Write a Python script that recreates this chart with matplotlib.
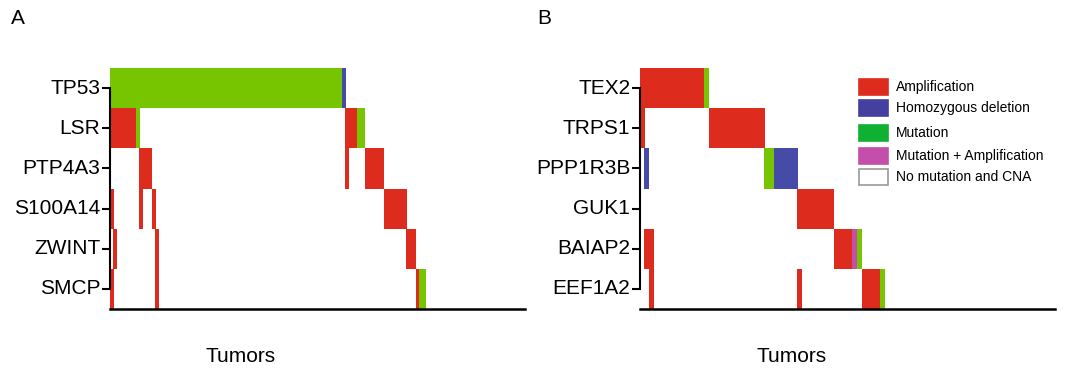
import matplotlib
matplotlib.use('Agg')
import matplotlib.pyplot as plt
import matplotlib.transforms as mtransforms
from matplotlib.patches import Rectangle

plt.rcParams['font.family'] = ['Liberation Sans', 'DejaVu Sans']

colors = {
    'amp': '#dd2c1e',
    'del': '#454ba6',
    'mut': '#77c400',
    'mutamp': '#c44fab',
}

# panel A: genes top to bottom, one event block per entry
genes_a = ['TP53', 'LSR', 'PTP4A3', 'S100A14', 'ZWINT', 'SMCP']
row_a   = [0, 0, 1, 1, 1, 1, 2, 2, 2, 3, 3, 3, 3, 4, 4, 4, 5, 5, 5, 5]
start_a = [0, 62, 0, 7, 62.7, 66, 7.7, 62.7, 68, 0, 7.7, 11.2, 73, 0.8, 12, 79, 0, 12, 81.6, 82.4]
end_a   = [62, 63, 7, 8, 66, 68, 11.2, 63.7, 73, 1, 8.7, 12.2, 79.2, 1.8, 13, 81.6, 1, 13, 82.4, 84.3]
kind_a  = ['mut', 'del', 'amp', 'mut', 'amp', 'mut', 'amp', 'amp', 'amp', 'amp', 'amp', 'amp', 'amp',
           'amp', 'amp', 'amp', 'amp', 'amp', 'amp', 'mut']
ntum_a = 110.7

# panel B
genes_b = ['TEX2', 'TRPS1', 'PPP1R3B', 'GUK1', 'BAIAP2', 'EEF1A2']
row_b   = [0, 0, 1, 1, 2, 2, 2, 3, 4, 4, 4, 4, 5, 5, 5, 5]
start_b = [0, 12.8, 0, 13.8, 0.8, 24.8, 26.8, 31.4, 0.8, 38.8, 42.4, 43.4, 1.8, 31.4, 44.4, 48]
end_b   = [12.8, 13.8, 1, 25, 1.8, 26.8, 31.6, 38.8, 2.8, 42.4, 43.4, 44.4, 2.8, 32.4, 48, 49]
kind_b  = ['amp', 'mut', 'amp', 'amp', 'del', 'mut', 'del', 'amp', 'amp', 'amp', 'mutamp', 'mut',
           'amp', 'amp', 'amp', 'mut']
ntum_b = 83

legend_labels = ['Amplification', 'Homozygous deletion', 'Mutation',
                 'Mutation + Amplification', 'No mutation and CNA']
legend_colors = ['#dd2c1e', '#4540a0', '#10b133', '#c44fab', 'white']

W, H = 1069, 368
fig = plt.figure(figsize=(W / 100, H / 100), dpi=100)


def oncoprint(ax, genes, rows, starts, ends, kinds, ntum):
    for r, s, e, k in zip(rows, starts, ends, kinds):
        ax.barh(r, e - s, left=s, height=1.0, color=colors[k], linewidth=0)
    ax.set_xlim(0, ntum)
    ax.set_ylim(len(genes) - 0.5, -0.5)
    ax.set_yticks(range(len(genes)))
    ax.set_yticklabels(genes, fontsize=15)
    ax.set_xticks([])
    for side in ['top', 'right']:
        ax.spines[side].set_visible(False)
    ax.spines['left'].set_bounds(0, len(genes) - 1)
    ax.spines['left'].set_linewidth(1.5)
    ax.spines['bottom'].set_linewidth(1.8)
    ax.tick_params(axis='y', length=6, width=1.5, pad=1)
    # nudge gene names up a little
    shift = mtransforms.ScaledTranslation(0, 2 / 100, fig.dpi_scale_trans)
    for lab in ax.get_yticklabels():
        lab.set_transform(lab.get_transform() + shift)


ax_a = fig.add_axes([110 / W, 59 / H, 415 / W, 241 / H])
oncoprint(ax_a, genes_a, row_a, start_a, end_a, kind_a, ntum_a)
ax_b = fig.add_axes([640 / W, 59 / H, 415 / W, 241 / H])
oncoprint(ax_b, genes_b, row_b, start_b, end_b, kind_b, ntum_b)

fig.text(11 / W, 1 - 18 / H, 'A', fontsize=15, va='center', ha='left')
fig.text(537 / W, 1 - 18 / H, 'B', fontsize=15, va='center', ha='left')
fig.text(241 / W, 1 - 356 / H, 'Tumors', fontsize=15, va='center', ha='center')
fig.text(792 / W, 1 - 356 / H, 'Tumors', fontsize=15, va='center', ha='center')

# legend boxes
ycent = [87, 108, 133, 156, 177]
for yc, lab, col in zip(ycent, legend_labels, legend_colors):
    edge = '#999999' if col == 'white' else col
    fig.add_artist(Rectangle((859 / W, 1 - (yc + 8) / H), 29 / W, 16 / H,
                             facecolor=col, edgecolor=edge, linewidth=1.2,
                             transform=fig.transFigure))
    fig.text(896 / W, 1 - yc / H, lab, fontsize=10, va='center', ha='left')

fig.savefig('out.png', dpi=100)
